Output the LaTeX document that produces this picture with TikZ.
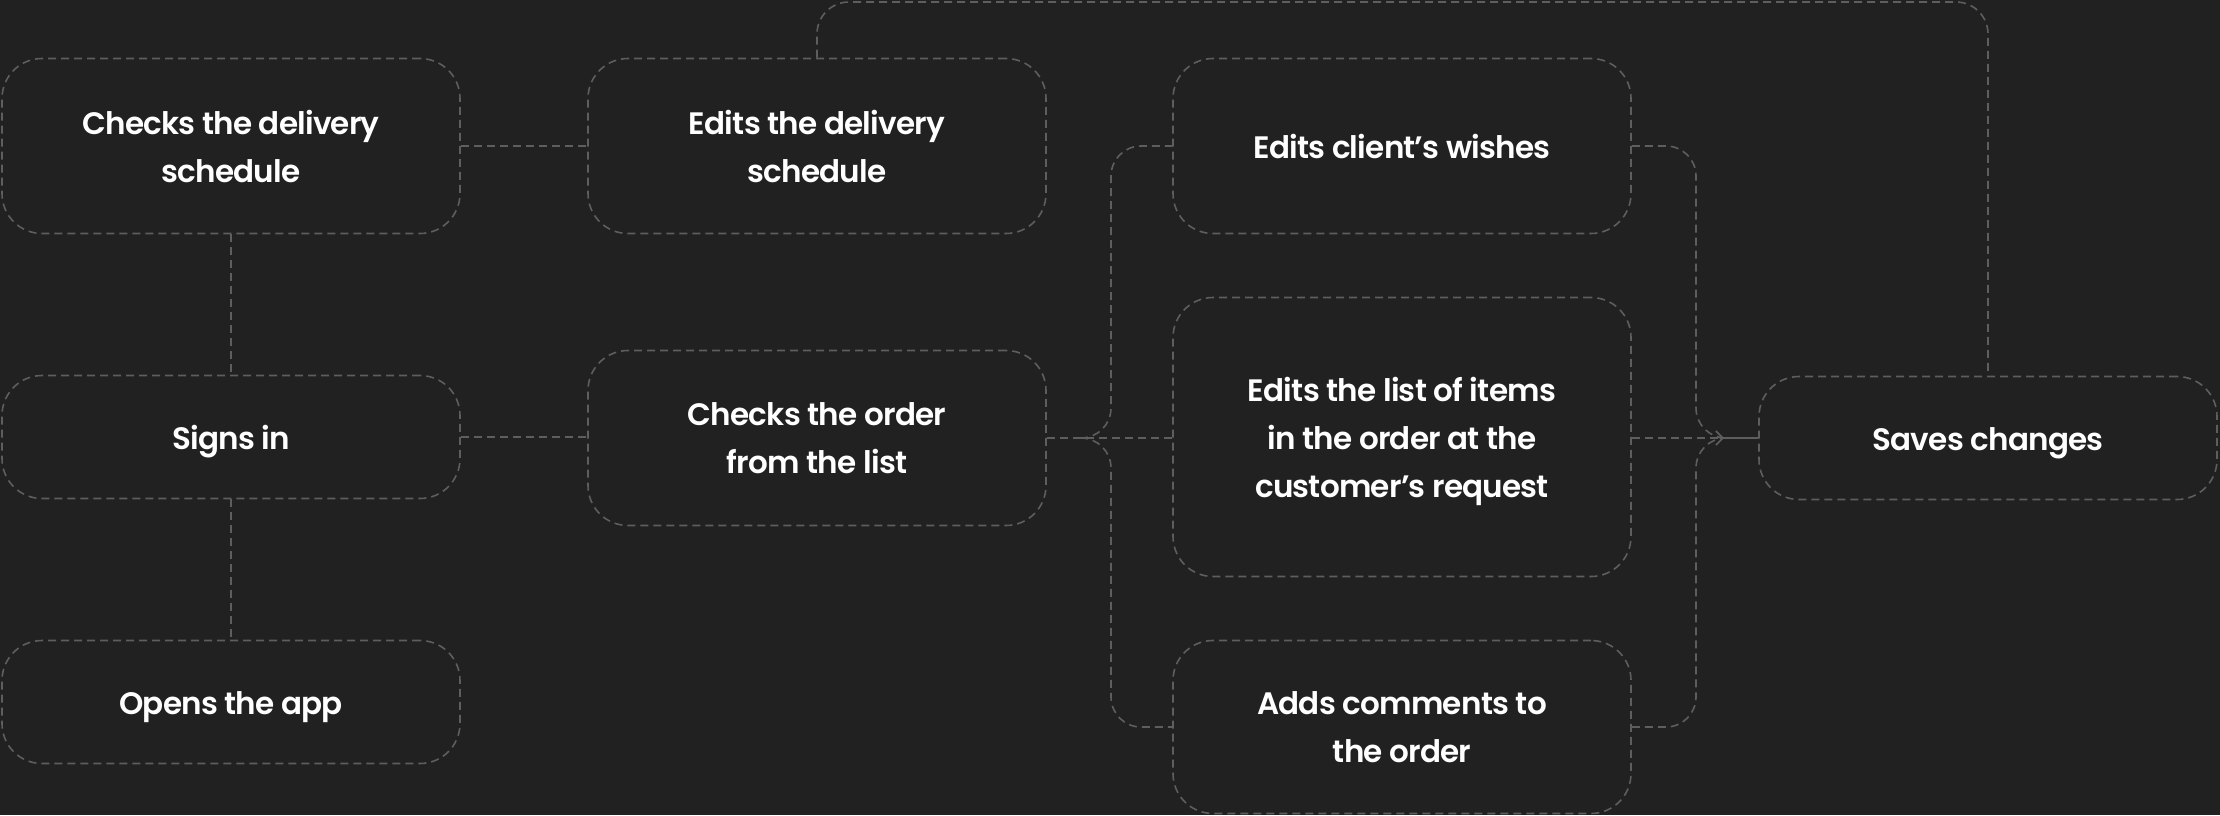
\documentclass[tikz,border=0pt]{standalone}
\usepackage{fontspec}
\setmainfont{Poppins SemiBold}[LetterSpace=-2.5]
\usetikzlibrary{arrows.meta}
\definecolor{bg}{HTML}{212121}
\definecolor{ln}{HTML}{5E5E5E}
\begin{document}
\begin{tikzpicture}[x=1pt,y=-1pt,
  box/.style={draw=ln, line width=1.6pt, dash pattern=on 8pt off 5pt, rounded corners=40pt,
    text=white, align=center, inner sep=0pt, minimum width=458pt,
    font=\fontsize{31}{48}\selectfont},
  onel/.style={text height=24pt, text depth=0pt},
  threel/.style={text depth=0pt},
  link/.style={draw=ln, line width=1.6pt, dash pattern=on 8pt off 5pt}]
\fill[bg] (0,0) rectangle (2220,815);
\useasboundingbox (0,0) rectangle (2220,815);

\node[box, minimum height=175pt] (b1) at (231,146) {Checks the delivery\\schedule};
\node[box, minimum height=175pt] (b2) at (817,146) {Edits the delivery\\schedule};
\node[box, onel, minimum height=123pt] (b3) at (231,437) {Signs in};
\node[box, minimum height=175pt] (b4) at (817,438) {Checks the order\\from the list};
\node[box, onel, minimum height=123pt] (b5) at (231,702) {Opens the app};
\node[box, onel, minimum height=175pt] (b6) at (1402,146) {Edits client’s wishes};
\node[box, threel, minimum height=279pt] (b7) at (1402,437) {Edits the list of items\\in the order at the\\customer’s request};
\node[box, minimum height=173pt] (b8) at (1402,727) {Adds comments to\\the order};
\node[box, onel, minimum height=123pt] (b9) at (1988,438) {Saves changes};

\coordinate (mL) at (1082,438);
\coordinate (busL) at (1111,438);
\coordinate (mR) at (1724,438);
\coordinate (busR) at (1696,438);
\coordinate (top) at (817,2);

\draw[link] (b1.east) -- (b2.west);
\draw[link] (b1.south) -- (b3.north);
\draw[link] (b3.south) -- (b5.north);
\draw[link] (b3.east) -- (b3.east -| b4.west);
\draw[link] (b4.east) -- (b4.east -| b7.west);
\draw[link, rounded corners=30pt] (mL) -| (busL |- b6.west) -- (b6.west);
\draw[link, rounded corners=30pt] (mL) -| (busL |- b8.west) -- (b8.west);
\draw[link, rounded corners=30pt] (b6.east) -| (busR) -- (mR);
\draw[link, rounded corners=30pt] (b8.east) -| (busR) -- (mR);
\draw[link, -{Straight Barb[length=7pt,width=14pt,line width=1.6pt]}] (b7.east |- mR) -- (mR);
\draw[draw=ln, line width=1.6pt] (mR) -- (b9.west);
\draw[link, rounded corners=32pt] (b2.north) -- (top) -| (b9.north);
\end{tikzpicture}
\end{document}
